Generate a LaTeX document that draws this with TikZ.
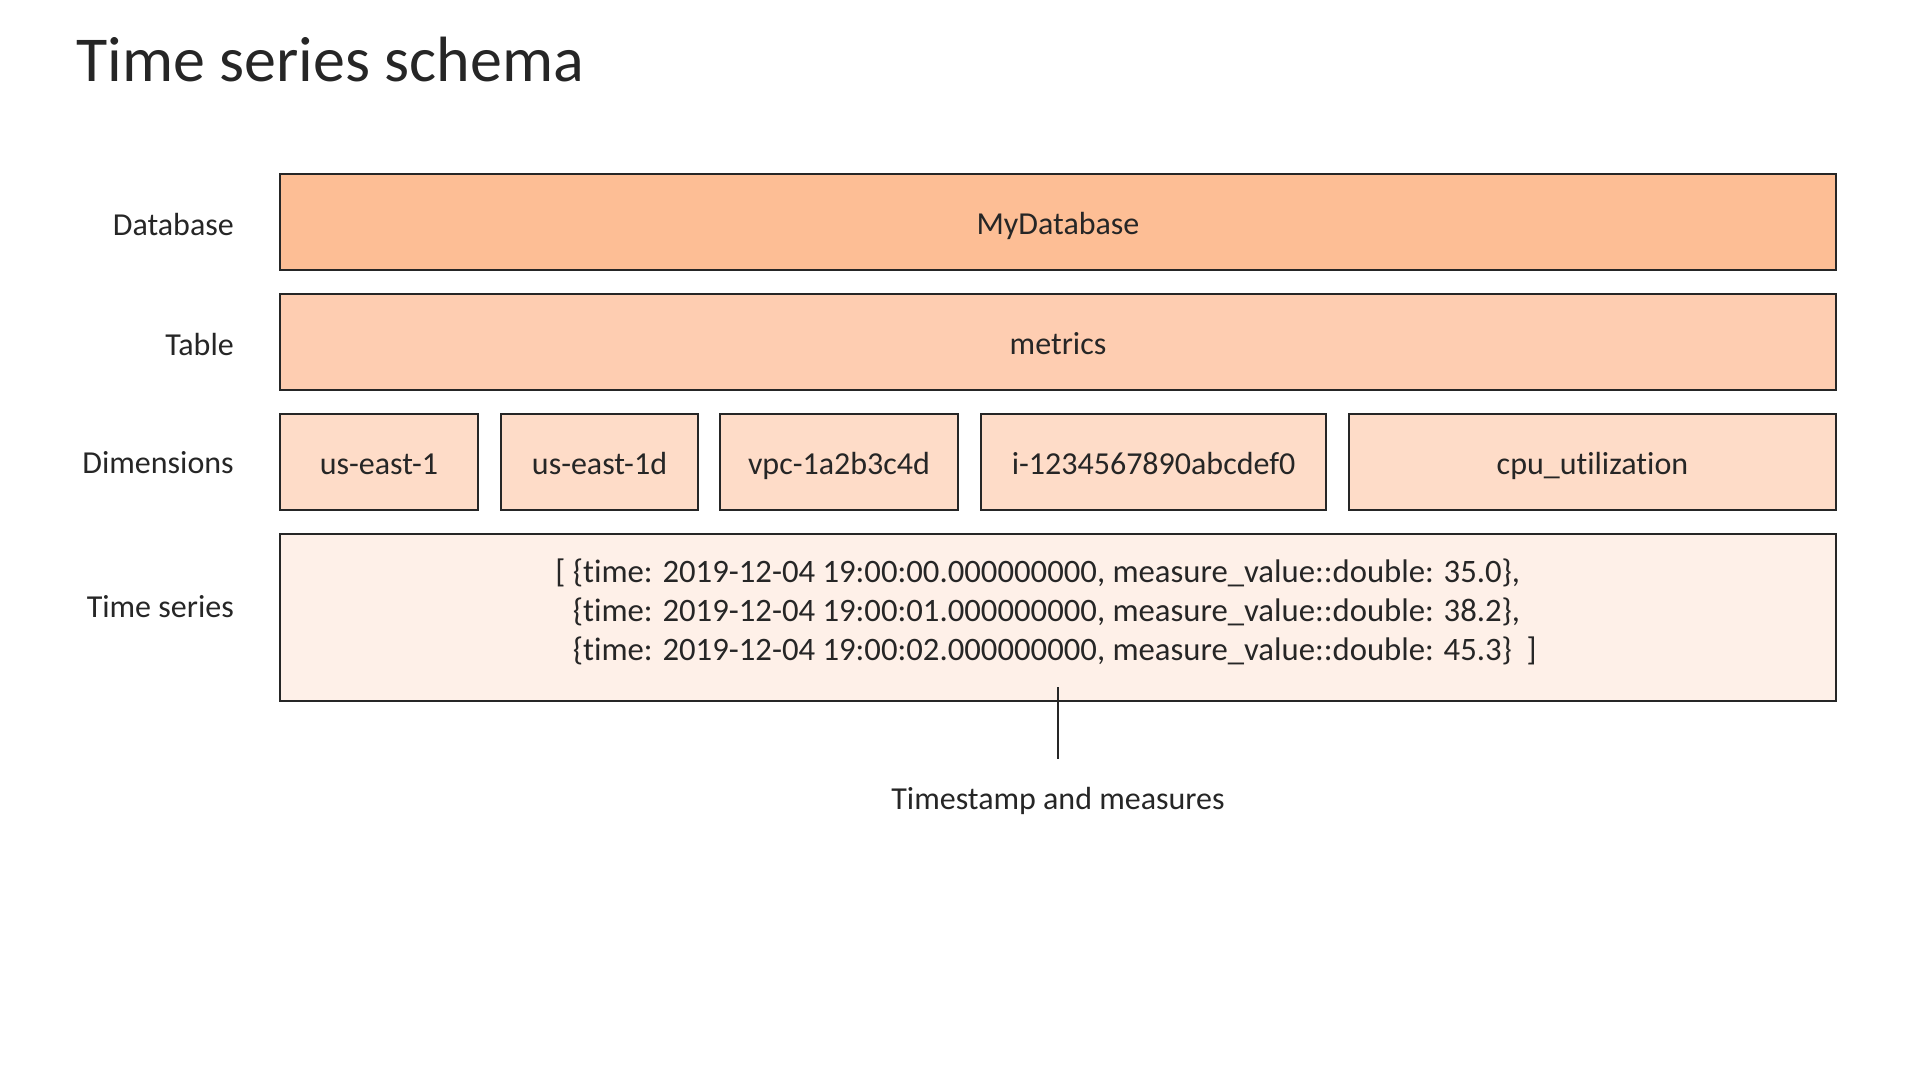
\documentclass[tikz,border=0pt]{standalone}
\usepackage{fontspec}
\setmainfont{Carlito}[Ligatures=NoCommon]
\usepackage{tikz}
\usetikzlibrary{positioning}
\definecolor{inkgray}{HTML}{262626}
\definecolor{dbfill}{HTML}{FDBE95}
\definecolor{tblfill}{HTML}{FECDB1}
\definecolor{dimfill}{HTML}{FEDCC8}
\definecolor{tsfill}{HTML}{FEF0E8}

\begin{document}
\begin{tikzpicture}[x=1pt, y=-1pt,
    font=\fontsize{32}{39}\selectfont, text=inkgray,
    layer/.style={rectangle, draw=inkgray, line width=2pt, inner sep=0pt, minimum height=96pt,
        text height=24pt, text depth=0pt},
    dbbox/.style={layer, fill=dbfill, minimum width=1556pt},
    tblbox/.style={layer, fill=tblfill, minimum width=1556pt},
    dimbox/.style={layer, fill=dimfill},
    tsbox/.style={rectangle, draw=inkgray, line width=2pt, fill=tsfill, minimum width=1556pt, minimum height=167pt},
    rowlabel/.style={anchor=east, inner sep=0pt, text height=22pt, text depth=0pt}
]
\useasboundingbox (0,0) rectangle (1920,1080);

% Title
\node[anchor=base west, inner sep=0pt, font=\fontsize{64}{70}\selectfont] (title) at (76,81) {Time series schema};

% Row labels
\node[rowlabel] (ldb) at (234,224) {Database};
\node[rowlabel] (ltbl) at (234,344) {Table};
\node[rowlabel] (ldim) at (234,462) {Dimensions};
\node[rowlabel] (lts) at (234,606) {Time series};

% Database and table
\node[dbbox] (db) at (1058,222) {MyDatabase};
\node[tblbox] (tbl) at (1058,342) {metrics};

% Dimensions
\node[dimbox, minimum width=198pt] (dim1) at (379,462) {us-east-1};
\node[dimbox, minimum width=197pt] (dim2) at (599.5,462) {us-east-1d};
\node[dimbox, minimum width=238pt] (dim3) at (839,462) {vpc-1a2b3c4d};
\node[dimbox, minimum width=345pt] (dim4) at (1153.5,462) {i-1234567890abcdef0};
\node[dimbox, minimum width=487pt] (dim5) at (1592.5,462) {cpu\_utilization};

% Time series
\node[tsbox] (ts) at (1058,617.5) {};
\node[align=left, inner sep=0pt, font=\fontsize{32.7}{39}\selectfont] (tsdata) at (1046,612) {%
[ \{time: 2019-12-04 19:00:00.000000000, measure\_value::double: 35.0\},\\
\phantom{[ }\{time: 2019-12-04 19:00:01.000000000, measure\_value::double: 38.2\},\\
\phantom{[ }\{time: 2019-12-04 19:00:02.000000000, measure\_value::double: 45.3\}\ \ ]};

% Callout
\coordinate (tick) at (1058,687);
\node[anchor=north, inner xsep=0pt, inner ysep=28pt] (tsm) at (1058,759) {Timestamp and measures};
\draw[inkgray, line width=2pt] (tick) -- (tsm);

\end{tikzpicture}
\end{document}
